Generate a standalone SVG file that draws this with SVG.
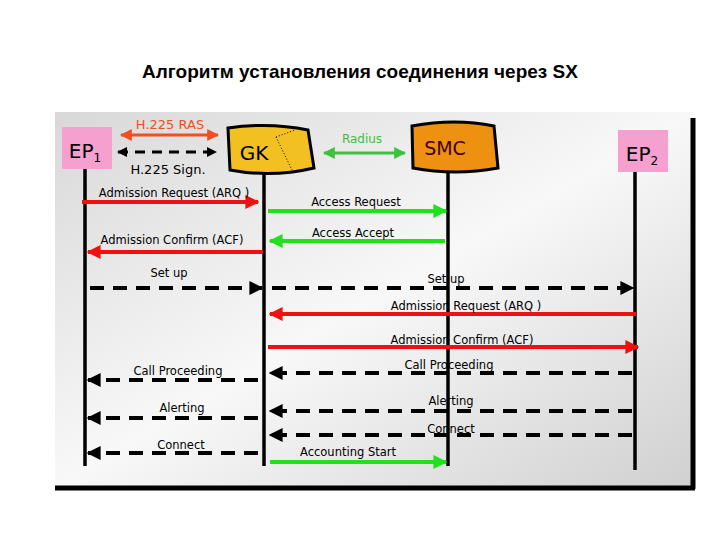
<svg xmlns="http://www.w3.org/2000/svg" width="720" height="540" viewBox="0 0 720 540">
<style>
.t{font-family:"DejaVu Sans",sans-serif;font-size:11.5px;fill:#000;text-anchor:middle}
.life{stroke:#000;stroke-width:3.5}
.red{stroke:#f01010;stroke-width:4;fill:none}
.grn{stroke:#20e020;stroke-width:4;fill:none}
.dsh{stroke:#000;stroke-width:4;stroke-dasharray:14 9;fill:none}
</style>
<defs>
<linearGradient id="bg" x1="0" y1="0" x2="1" y2="1"><stop offset="0" stop-color="#d8d8d8"/><stop offset="0.5" stop-color="#f8f8f8"/><stop offset="1" stop-color="#d0d0d0"/></linearGradient>
<marker id="ar" viewBox="0 0 10 10" refX="9" refY="5" markerWidth="3.5" markerHeight="3.5" orient="auto-start-reverse"><path d="M0,0L10,5L0,10z" fill="#f01010"/></marker>
<marker id="ag" viewBox="0 0 10 10" refX="9" refY="5" markerWidth="3.5" markerHeight="3.5" orient="auto-start-reverse"><path d="M0,0L10,5L0,10z" fill="#20e020"/></marker>
<marker id="ak" viewBox="0 0 10 10" refX="9" refY="5" markerWidth="3.5" markerHeight="3.5" orient="auto-start-reverse"><path d="M0,0L10,5L0,10z" fill="#000"/></marker>
<marker id="ao" viewBox="0 0 10 10" refX="9" refY="5" markerWidth="4" markerHeight="4" orient="auto-start-reverse"><path d="M0,0L10,5L0,10z" fill="#f05020"/></marker>
<marker id="ag2" viewBox="0 0 10 10" refX="9" refY="5" markerWidth="4" markerHeight="4" orient="auto-start-reverse"><path d="M0,0L10,5L0,10z" fill="#40c040"/></marker>
</defs>
<rect width="720" height="540" fill="#fff"/>
<text x="360" y="78" font-family="Liberation Sans,sans-serif" font-size="19" font-weight="bold" text-anchor="middle">Алгоритм установления соединения через SX</text>
<rect x="55" y="112" width="638" height="375" fill="url(#bg)"/>
<line x1="693" y1="118" x2="693" y2="489" stroke="#000" stroke-width="5"/>
<line x1="55" y1="488" x2="695" y2="488" stroke="#000" stroke-width="5"/>
<g id="lifelines">
<line class="life" x1="85" y1="168" x2="85" y2="466"/>
<line class="life" x1="264" y1="172" x2="264" y2="466"/>
<line class="life" x1="448" y1="170" x2="448" y2="466"/>
<line class="life" x1="635" y1="172" x2="635" y2="470"/>
</g>
<g id="EP1"><rect x="62" y="127" width="50" height="42" fill="#f6a0d0"/><text x="85" y="158" font-family="DejaVu Sans,sans-serif" font-size="20" text-anchor="middle">EP<tspan font-size="12" dy="4">1</tspan></text></g>
<g id="GK"><path d="M228,128 Q270,122 308,130 L314,168 Q272,178 230,170 Z" fill="#f2c020" stroke="#000" stroke-width="3"/><path d="M276,137 L295,130 M276,137 L292,170" stroke="#000" stroke-dasharray="1 2" fill="none"/><text x="254" y="160" font-family="DejaVu Sans,sans-serif" font-size="20" text-anchor="middle">GK</text></g>
<g id="SMC"><path d="M412,126 Q455,118 494,126 L498,168 Q455,176 413,168 Z" fill="#ee9010" stroke="#000" stroke-width="3"/><text x="445" y="155" font-family="DejaVu Sans,sans-serif" font-size="19" fill="#400" text-anchor="middle">SMC</text></g>
<g id="EP2"><rect x="618" y="130" width="50" height="42" fill="#f6a0d0"/><text x="642" y="161" font-family="DejaVu Sans,sans-serif" font-size="20" text-anchor="middle">EP<tspan font-size="12" dy="4">2</tspan></text></g>
<g id="connectors">
<line x1="121" y1="135" x2="218" y2="135" stroke="#f05020" stroke-width="3" marker-start="url(#ao)" marker-end="url(#ao)"/>
<line x1="118" y1="152" x2="216" y2="152" stroke="#000" stroke-width="3" stroke-dasharray="10 7" marker-start="url(#ak)" marker-end="url(#ak)"/>
<line x1="324" y1="153" x2="405" y2="153" stroke="#40c040" stroke-width="3" marker-start="url(#ag2)" marker-end="url(#ag2)"/>
<line class="red" x1="82" y1="202" x2="258" y2="202" marker-end="url(#ar)"/>
<line class="red" x1="263" y1="252" x2="88" y2="252" marker-end="url(#ar)"/>
<line class="grn" x1="268" y1="211" x2="446" y2="211" marker-end="url(#ag)"/>
<line class="grn" x1="445" y1="241" x2="270" y2="241" marker-end="url(#ag)"/>
<line class="dsh" x1="90" y1="288" x2="262" y2="288" marker-end="url(#ak)"/>
<line class="dsh" x1="272" y1="288" x2="633" y2="288" marker-end="url(#ak)"/>
<line class="red" x1="636" y1="314" x2="270" y2="314" marker-end="url(#ar)"/>
<line class="red" x1="268" y1="347" x2="638" y2="347" marker-end="url(#ar)"/>
<line class="dsh" x1="632" y1="373" x2="270" y2="373" marker-end="url(#ak)"/>
<line class="dsh" x1="258" y1="380" x2="88" y2="380" marker-end="url(#ak)"/>
<line class="dsh" x1="632" y1="411" x2="270" y2="411" marker-end="url(#ak)"/>
<line class="dsh" x1="258" y1="418" x2="88" y2="418" marker-end="url(#ak)"/>
<line class="dsh" x1="632" y1="435" x2="270" y2="435" marker-end="url(#ak)"/>
<line class="dsh" x1="258" y1="453" x2="88" y2="453" marker-end="url(#ak)"/>
<line class="grn" x1="270" y1="462" x2="446" y2="462" marker-end="url(#ag)"/>
</g>
<g id="labels">
<text x="170" y="129" font-family="DejaVu Sans,sans-serif" font-size="13" fill="#f05020" text-anchor="middle">H.225 RAS</text>
<text x="168" y="174" font-family="DejaVu Sans,sans-serif" font-size="13" text-anchor="middle">H.225 Sign.</text>
<text x="362" y="143" font-family="DejaVu Sans,sans-serif" font-size="12" fill="#40c040" text-anchor="middle">Radius</text>
<text class="t" x="174" y="197">Admission Request (ARQ )</text>
<text class="t" x="172" y="244">Admission Confirm (ACF)</text>
<text class="t" x="356" y="206">Access Request</text>
<text class="t" x="353" y="237">Access Accept</text>
<text class="t" x="169" y="277">Set up</text>
<text class="t" x="446" y="283">Set up</text>
<text class="t" x="466" y="310">Admission Request (ARQ )</text>
<text class="t" x="462" y="344">Admission Confirm (ACF)</text>
<text class="t" x="178" y="375">Call Proceeding</text>
<text class="t" x="449" y="369">Call Proceeding</text>
<text class="t" x="182" y="412">Alerting</text>
<text class="t" x="451" y="405">Alerting</text>
<text class="t" x="181" y="449">Connect</text>
<text class="t" x="451" y="433">Connect</text>
<text class="t" x="348" y="456">Accounting Start</text>
</g>
</svg>
